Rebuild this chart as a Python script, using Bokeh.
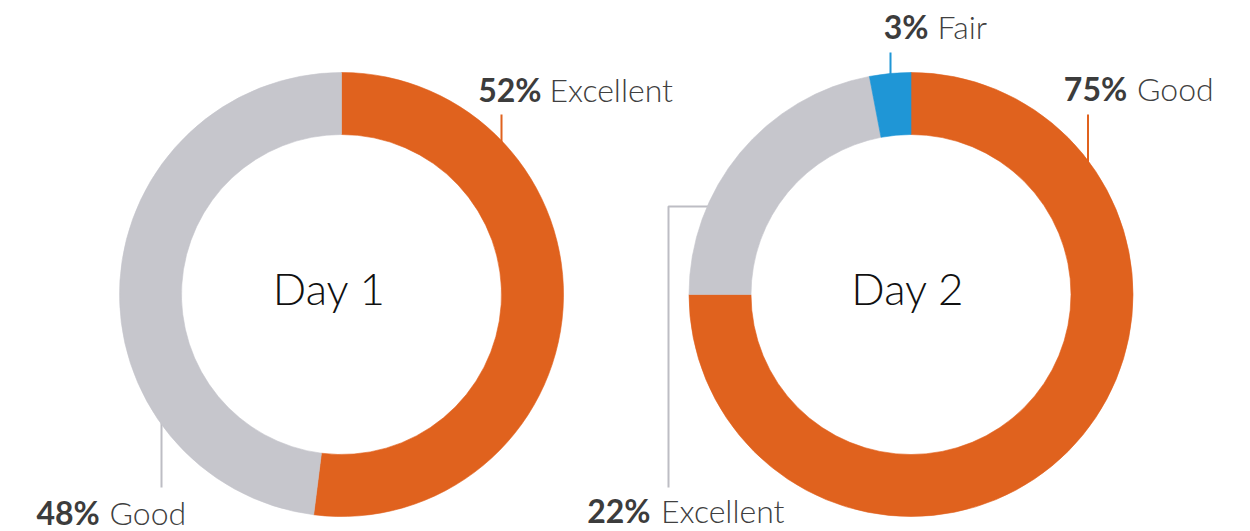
import math
from bokeh.plotting import figure
from bokeh.models import Range1d, ColumnDataSource
from bokeh.core.properties import value
from bokeh.embed import file_html
from bokeh.resources import INLINE

# ---------------- data ----------------
days = ["Day 1", "Day 2"]
day1_categories = ["Excellent", "Good"]
day1_values = [52, 48]
day1_colors = ["#E0621E", "#C6C6CC"]
day2_categories = ["Good", "Excellent", "Fair"]
day2_values = [75, 22, 3]
day2_colors = ["#E0621E", "#C6C6CC", "#1F96D6"]

# ---------------- layout (image pixel coords, y down) ----------------
W, H = 1250, 531
centers = [(341.0, 294.0), (910.5, 294.0)]
day_text_x = [329.0, 907.5]
day_text_y = 306.5
r_out, r_in = 222.0, 160.0
r_mid = (r_out + r_in) / 2
DAY_SIZE = 44
LBL_SIZE = 32
BASE_FIX = 0.43  # svg baseline correction (fraction of font size)

LINE_COLORS = {"#E0621E": "#E0621E", "#C6C6CC": "#BDBDC4", "#1F96D6": "#1F96D6"}

# label layout per slice: (pct right edge x, category left x, baseline y, leader x, leader end y, side, elbow_y)
label_layout = {
    (0, 0): (541.0, 549.0, 103.0, 501.0, 114.0, "up", None),
    (0, 1): (99.3, 109.0, 526.0, 161.0, 487.0, "down", None),
    (1, 0): (1126.7, 1136.5, 102.0, 1087.5, 114.0, "up", None),
    (1, 1): (650.0, 660.5, 524.0, 668.0, 487.0, "down", 206.0),
    (1, 2): (928.0, 937.0, 40.0, 890.0, 52.0, "up", None),
}


def fy(y):
    return H - y


p = figure(width=W, height=H, output_backend="svg", toolbar_location=None,
           x_range=Range1d(0, W), y_range=Range1d(0, H), min_border=0,
           background_fill_color="white", border_fill_color="white")
p.axis.visible = False
p.grid.visible = False
p.outline_line_color = None

all_vals = [day1_values, day2_values]
all_cats = [day1_categories, day2_categories]
all_cols = [day1_colors, day2_colors]

# leader lines (drawn first, under the ring)
for d in range(2):
    cx, cy = centers[d]
    for i, cat in enumerate(all_cats[d]):
        pr, cl, base, lx, ly, side, elbow = label_layout[(d, i)]
        lc = LINE_COLORS[all_cols[d][i]]
        if elbow is None:
            dx = lx - cx
            dy = math.sqrt(r_mid ** 2 - dx ** 2)
            yend = cy - dy if side == "up" else cy + dy
            p.line([lx, lx], [fy(ly), fy(yend)], line_color=lc, line_width=2)
        else:
            dy = elbow - cy
            xend = cx - math.sqrt(r_mid ** 2 - dy ** 2)
            p.line([lx, lx, xend], [fy(ly), fy(elbow), fy(elbow)], line_color=lc, line_width=2)

# donuts
for d in range(2):
    cx, cy = centers[d]
    vals = all_vals[d]
    total = float(sum(vals))
    starts, ends = [], []
    cum = 0.0
    for v in vals:
        a0 = cum / total
        cum += v
        a1 = cum / total
        # clockwise from 12 o'clock
        starts.append(math.pi / 2 - 2 * math.pi * a1)
        ends.append(math.pi / 2 - 2 * math.pi * a0)
    src = ColumnDataSource(dict(x=[cx] * len(vals), y=[fy(cy)] * len(vals),
                                start=starts, end=ends, color=all_cols[d]))
    p.annular_wedge(x="x", y="y", inner_radius=r_in, outer_radius=r_out,
                    start_angle="start", end_angle="end", direction="anticlock",
                    fill_color="color", line_color="color", line_width=0.6, source=src)

    p.text(x=[day_text_x[d]], y=[fy(day_text_y - BASE_FIX * DAY_SIZE)], text=[days[d]],
           text_font=value("Lato Light"), text_font_size=f"{DAY_SIZE}px", text_color="#111111",
           text_align="center", text_baseline="alphabetic")

    for i, cat in enumerate(all_cats[d]):
        pr, cl, base, lx, ly, side, elbow = label_layout[(d, i)]
        yb = fy(base - BASE_FIX * LBL_SIZE)
        p.text(x=[pr], y=[yb], text=[f"{vals[i]}%"], text_font=value("Lato"),
               text_font_style="bold", text_font_size=f"{LBL_SIZE}px", text_color="#3C3C3C",
               text_align="right", text_baseline="alphabetic")
        p.text(x=[cl], y=[yb], text=[cat], text_font=value("Lato Light"),
               text_font_size=f"{LBL_SIZE}px", text_color="#404040",
               text_align="left", text_baseline="alphabetic")

open("out.html", "w").write(file_html(p, INLINE))
